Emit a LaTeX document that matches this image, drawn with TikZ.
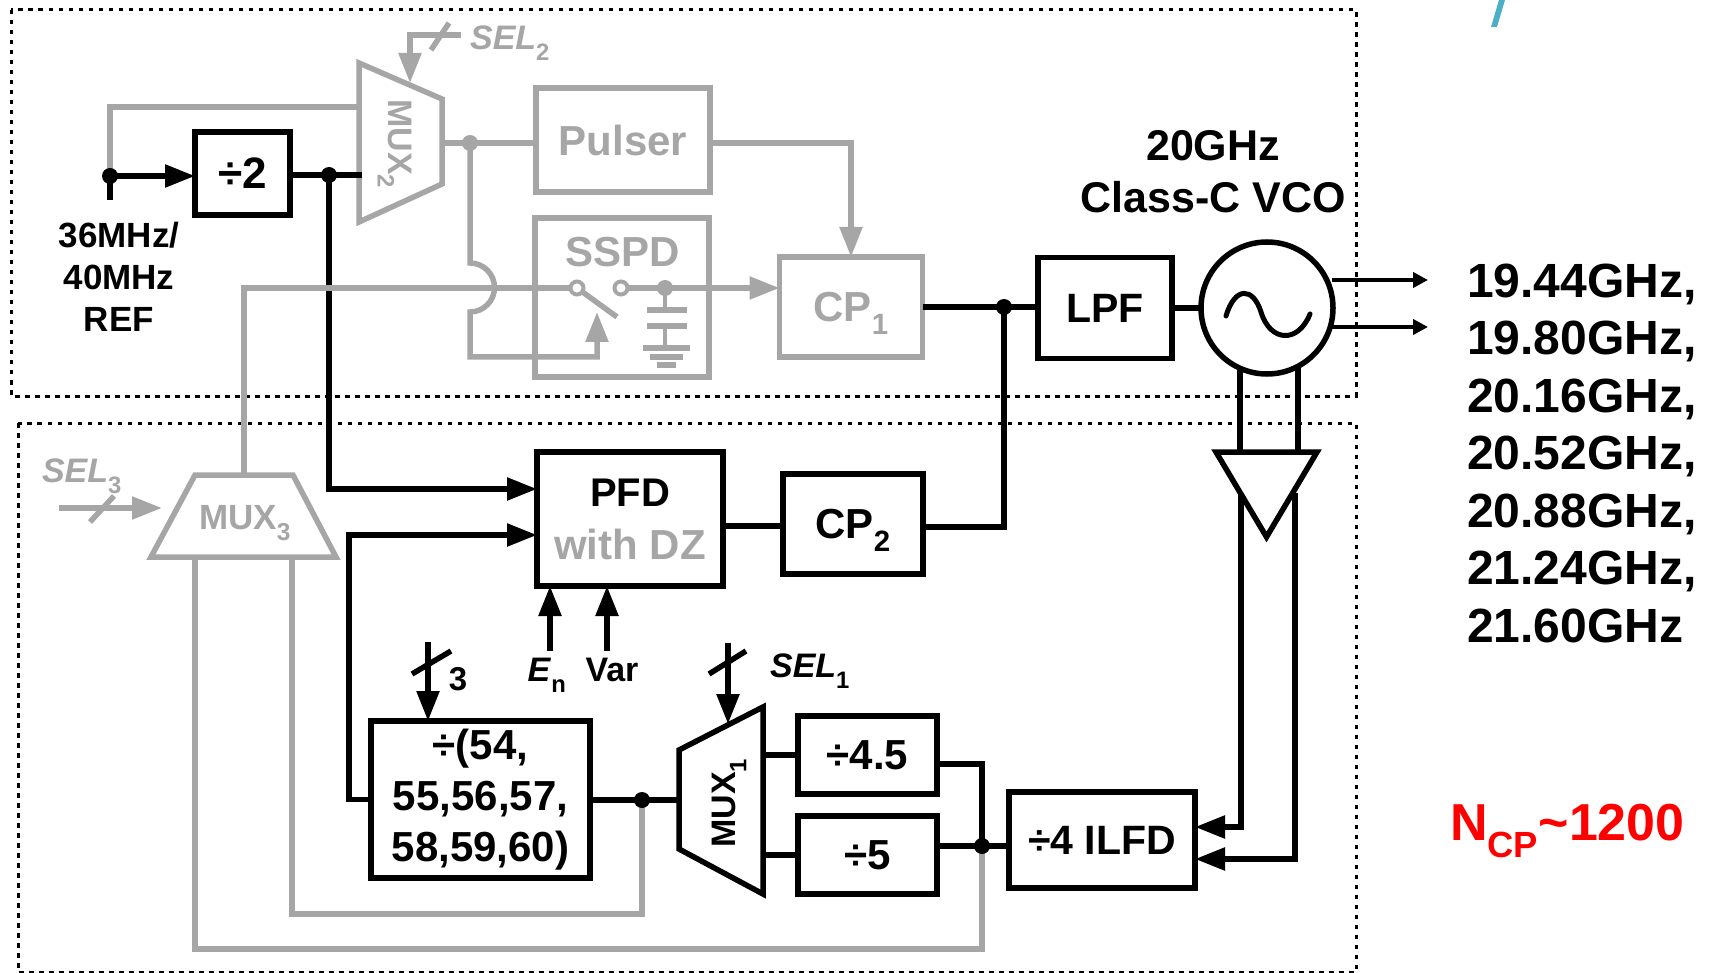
\documentclass[tikz,border=0pt]{standalone}
\usepackage{fontspec}
\setmainfont{Liberation Sans}
\usetikzlibrary{arrows.meta,shapes.geometric}
\definecolor{tealmark}{HTML}{4BAFC8}
\newcommand{\fs}[2]{\fontsize{#1}{#2}\selectfont\bfseries}
\newcommand{\sbs}[1]{\smash{\textsubscript{\raisebox{-.3em}{\upshape #1}}}}
\tikzset{
	blockb/.style={draw=black, line width=5.5pt, minimum width=#1, inner sep=0, outer sep=0},
	blockg/.style={draw=black!35, text=black!35, line width=5.5pt, minimum width=#1, inner sep=0, outer sep=0},
	muxb/.style={draw=black, line width=5.5pt, line join=miter},
	muxg/.style={muxb, draw=black!35},
	wireb/.style={draw=black, line width=5.5pt},
	wireg/.style={draw=black!35, line width=5.5pt},
	bigtip/.style={-{Triangle[length=30pt,width=22pt]}},
	smalltip/.style={-{Triangle[length=15pt,width=15pt]}},
	jdotb/.style={circle, fill=black, inner sep=0, minimum size=16pt},
	jdotg/.style={circle, fill=black!35, inner sep=0, minimum size=16pt},
	term/.style={circle, draw=black!35, fill=white, line width=4pt, inner sep=0, minimum size=13pt},
	frame/.style={draw=black, line width=3pt, dash pattern=on 4.5pt off 5.5pt},
	lbl/.style={inner sep=0, outer sep=0, align=center}
}

\begin{document}
\begin{tikzpicture}[x=1pt, y=-1pt]
		%%%%% START %%%%%
		\useasboundingbox (0, 0) rectangle (1713, 973);

		\draw[frame] (11, 10) rectangle (1356, 396);
		\draw[frame] (18, 423) rectangle (1356, 972);

		\fill[tealmark] (1491, 27) -- (1499, 0) -- (1505, 0) -- (1497, 27) -- cycle;

		% blocks
		\node[blockb=95pt, minimum height=83pt, font=\fs{44}{50}] (divtwo) at (242.5, 173.5) {÷2};
		\node[blockg=174pt, minimum height=104pt, font=\fs{42}{50}] (pulser) at (623, 140) {Pulser};
		\node[blockg=174pt, minimum height=159pt] (sspd) at (622, 297.5) {};
		\node[blockg=143pt, minimum height=100pt, font=\fs{42}{50}] (cpone) at (851, 307) {CP\sbs{1}};
		\node[blockb=134pt, minimum height=101pt, font=\fs{41}{50}] (lpf) at (1105, 308) {LPF};
		\node[blockb=186pt, minimum height=134pt] (pfd) at (630, 519) {};
		\node[blockb=140pt, minimum height=100pt, font=\fs{42}{50}] (cptwo) at (853, 524) {CP\sbs{2}};
		\node[blockb=219pt, minimum height=157pt, align=center, font=\fs{42}{51}] (divn) at (480.5, 799.5) {÷(54,\\55,56,57,\\58,59,60)};
		\node[blockb=139pt, minimum height=78pt, font=\fs{42}{50}] (divfour) at (867.5, 755) {÷4.5};
		\node[blockb=139pt, minimum height=78pt, font=\fs{42}{50}] (divfive) at (867.5, 855) {÷5};
		\node[blockb=186pt, minimum height=96pt, font=\fs{41}{50}] (ilfd) at (1102, 840) {÷4 ILFD};

		\node[lbl, font=\fs{42}{50}, text=black!35] (sspdtext) at (623, 252) {SSPD};
		\node[lbl, font=\fs{40}{50}] (pfdtext) at (630, 493) {PFD};
		\node[lbl, font=\fs{42}{50}, text=black!35] (dztext) at (630, 544) {with DZ};

		% muxes
		\draw[muxg] (359, 63) -- (442, 99) -- (442, 184) -- (359, 222) -- cycle;
		\draw[muxg] (195, 475) -- (293, 475) -- (336, 557) -- (151, 557) -- cycle;
		\draw[muxb] (679, 750) -- (763, 707) -- (763, 894) -- (679, 849) -- cycle;
		\node[lbl, rotate=-90, font=\fs{34}{40}, text=black!35] (muxtwo) at (400, 144) {MUX\sbs{2}};
		\node[lbl, font=\fs{35}{40}, text=black!35] (muxthree) at (245, 518) {MUX\sbs{3}};
		\node[lbl, rotate=90, font=\fs{34}{40}] (muxone) at (724, 803) {MUX\sbs{1}};
		\coordinate (muxtwoin) at (359, 107);
		\coordinate (muxtwosel) at (410, 83);
		\coordinate (muxtwoout) at (442, 143);
		\coordinate (muxthreeout) at (244, 475);
		\coordinate (muxthreea) at (195, 557);
		\coordinate (muxthreeb) at (292, 557);
		\coordinate (muxoneout) at (679, 800);

		% points on the wires
		\coordinate (jref) at (110, 176);
		\coordinate (jdiv) at (329, 175);
		\coordinate (jsplit) at (470, 143);
		\coordinate (jsw) at (665, 288);
		\coordinate (jloop) at (1004, 307);
		\coordinate (jnout) at (642, 800);
		\coordinate (jfb) at (982, 846);

		% reference path
		\draw[wireg] (jref) |- (muxtwoin);
		\draw[wireb] (jref) -- (110, 200);
		\draw[wireb, bigtip] (jref) -- (divtwo.west |- jref);
		\draw[wireb, line width=6.5pt] (divtwo.east |- jdiv) -- (362, 175);
		\draw[wireb, bigtip] (jdiv) |- (pfd.west |- 0, 489);

		% upper gray path
		\coordinate (swa) at (577, 288);
		\coordinate (swb) at (621, 288);
		\coordinate (bumptop) at (470, 263);
		\coordinate (bumpend) at (470, 357);
		\coordinate (swctrl) at (597, 312);
		\draw[wireg] (muxtwoout) -- (pulser.west |- muxtwoout);
		\draw[wireg, bigtip] (pulser.east |- jsplit) -| (cpone.north);
		\draw[wireg] (muxthreeout) |- (swa);
		\draw[wireg, bigtip] (jsplit) -- (bumptop) arc[start angle=-90, end angle=90, radius=24.5] -- (bumpend) -| (swctrl);
		\draw[wireg, bigtip] (swb) -- (cpone.west |- swb);
		\draw[wireg] (swa) -- (617, 317);
		\node[term] (terma) at (swa) {};
		\node[term] (termb) at (swb) {};

		% hold capacitor
		\draw[wireg, line width=4pt] (jsw) -- (665, 310);
		\draw[wireg, line width=6pt] (647, 310) -- (687, 310);
		\draw[wireg, line width=6pt] (647, 326) -- (687, 326);
		\draw[wireg, line width=4pt] (665, 326) -- (665, 348);
		\draw[wireg, line width=6pt] (643, 348) -- (690, 348);
		\draw[wireg, line width=6pt] (650, 357) -- (683, 357);
		\draw[wireg, line width=6pt] (657, 365) -- (676, 365);

		% select inputs
		\node[lbl, font=\fs{34}{40}\itshape, text=black!35] (seltwo) at (510, 38) {SEL\sbs{2}};
		\coordinate (seltwoa) at (461, 35);
		\coordinate (seltwob) at (410, 35);
		\draw[wireg, bigtip] (seltwoa) -- (seltwob) -- (muxtwosel);
		\draw[wireg] (431, 50) -- (449, 23);

		\node[lbl, font=\fs{34}{40}\itshape, text=black!35] (selthree) at (82, 471) {SEL\sbs{3}};
		\coordinate (selthreea) at (59, 508);
		\draw[wireg, bigtip] (selthreea) -- (162, 508);
		\draw[wireg] (90, 522) -- (114, 496);

		\node[lbl, font=\fs{34}{40}\itshape] (selone) at (810, 666) {SEL\sbs{1}};
		\coordinate (selonea) at (728, 643);
		\draw[wireb, bigtip] (selonea) -- (728, 724);
		\draw[wireb] (709, 674) -- (746, 651);

		\node[lbl, font=\fs{33}{40}] (bits) at (458, 679) {3};
		\coordinate (bitsa) at (428, 642);
		\draw[wireb, bigtip] (bitsa) -- (divn.north -| bitsa);
		\draw[wireb] (412, 674) -- (451, 651);

		\node[lbl, font=\fs{34}{40}] (entext) at (547, 670) {\textit{E}\sbs{n}};
		\node[lbl, font=\fs{34}{40}] (vartext) at (612, 670) {Var};
		\draw[wireb, bigtip] (550, 651) -- (pfd.south -| 550, 651);
		\draw[wireb, bigtip] (607, 651) -- (pfd.south -| 607, 651);

		% loop
		\draw[wireb, line width=6.5pt] (cpone.east) -- (lpf.west |- cpone.east);
		\draw[wireb] (jloop) |- (cptwo.east |- 0, 527);
		\draw[wireb, line width=6pt] (pfd.east |- 0, 526) -- (cptwo.west |- 0, 526);
		\draw[wireb, line width=6pt] (lpf.east) -- (1200, 308);
		\draw[wireb, bigtip] (divn.west) -- (349, 799.5) |- (pfd.west |- 0, 535);
		\draw[wireb, line width=6pt] (divn.east) -- (muxoneout |- divn.east);
		\draw[wireb, line width=6pt] (763, 755) -- (divfour.west);
		\draw[wireb, line width=6pt] (763, 855) -- (divfive.west);
		\draw[wireb] (divfour.east |- 0, 764) -| (jfb);
		\draw[wireb, line width=6pt] (divfive.east |- jfb) -- (ilfd.west |- jfb);

		% gray return paths
		\coordinate (backb) at (292, 914);
		\coordinate (backa) at (195, 949);
		\draw[wireg] (jnout) |- (backb) -- (muxthreeb);
		\draw[wireg] (jfb) |- (backa) -- (muxthreea);

		% oscillator
		\node[circle, draw=black, fill=white, line width=5.5pt, minimum size=132pt, inner sep=0, outer sep=0] (vco) at (1267, 308) {};
		\draw[line width=5pt, line cap=round] (1226, 316) .. controls (1235, 286) and (1253, 287) .. (1261, 312) .. controls (1270, 342) and (1298, 344) .. (1310, 314);
		\node[lbl, font=\fs{43}{52}] (vcotext) at (1213, 172) {20GHz\\Class-C VCO};
		\draw[wireb, line width=4pt, smalltip] (1332, 280) -- (1428, 280);
		\draw[wireb, line width=4pt, smalltip] (1332, 327) -- (1428, 327);
		\draw[wireb] (vco.-114) -- (vco.-114 |- 0, 452);
		\draw[wireb] (vco.-62) -- (vco.-62 |- 0, 452);
		\node[isosceles triangle, isosceles triangle stretches=true, shape border rotate=-90, anchor=apex, draw=black, fill=white, line width=5.5pt, minimum width=101pt, minimum height=85pt, inner sep=0, outer sep=0] (buf) at (1266.5, 537) {};

		% divider feed
		\draw[wireb, bigtip] (1241, 493) |- (ilfd.east |- 0, 827);
		\draw[wireb, bigtip] (1295, 493) |- (ilfd.east |- 0, 859);

		% junctions
		\node[jdotb] (dotref) at (jref) {};
		\node[jdotb] (dotdiv) at (jdiv) {};
		\node[jdotg] (dotsplit) at (jsplit) {};
		\node[jdotg] (dotsw) at (jsw) {};
		\node[jdotb] (dotloop) at (jloop) {};
		\node[jdotb] (dotnout) at (jnout) {};
		\node[jdotb] (dotfb) at (jfb) {};

		% labels
		\node[lbl, font=\fs{35}{42}] (reftext) at (119, 277) {36MHz/\\40MHz\\REF};
		\node[lbl, anchor=west, align=left, font=\fs{48}{57.5}] (freqs) at (1467, 453) {19.44GHz,\\19.80GHz,\\20.16GHz,\\20.52GHz,\\20.88GHz,\\21.24GHz,\\21.60GHz};
		\node[lbl, anchor=west, font=\fs{52}{60}, text=red] (ncp) at (1450, 823) {N\sbs{CP}\textasciitilde 1200};
		%%%%% END %%%%%
	\end{tikzpicture}
\end{document}
